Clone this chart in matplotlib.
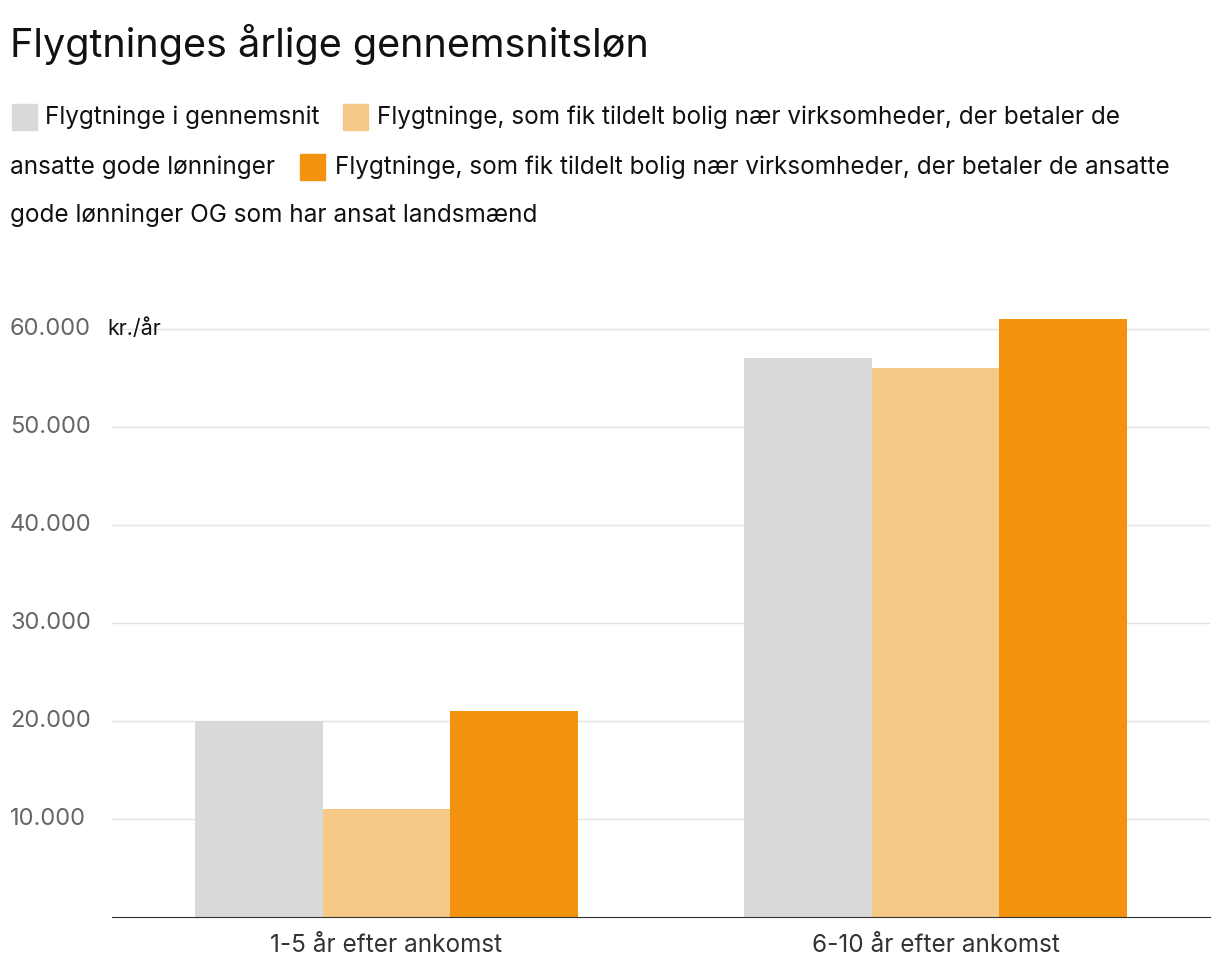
import matplotlib.pyplot as plt
from matplotlib.patches import Rectangle
import numpy as np

plt.rcParams['font.family'] = ['Inter', 'DejaVu Sans']

categories = ["1-5 år efter ankomst", "6-10 år efter ankomst"]
series_names = ["Flygtninge i gennemsnit",
                "Flygtninge, som fik tildelt bolig nær virksomheder, der betaler de ansatte gode lønninger",
                "Flygtninge, som fik tildelt bolig nær virksomheder, der betaler de ansatte gode lønninger OG som har ansat landsmænd"]
avg = [20000, 57000]
good_pay = [11000, 56000]
good_pay_countrymen = [21000, 61000]
colors = ["#d9d9d9", "#f7c987", "#f2920f"]
yticks = [10000, 20000, 30000, 40000, 50000, 60000]
ytick_labels = ["10.000", "20.000", "30.000", "40.000", "50.000", "60.000"]

W, H = 1220, 980
fig = plt.figure(figsize=(12.2, 9.8), dpi=100)
ax = fig.add_axes([112 / W, 1 - 917 / H, 1098 / W, (917 - 309) / H])

x = np.arange(len(categories))
w = 0.233
for i, vals in enumerate([avg, good_pay, good_pay_countrymen]):
    ax.bar(x + (i - 1) * w, vals, width=w, color=colors[i], zorder=2)

ax.set_xlim(-0.5, 1.5)
ax.set_ylim(0, 62000)
ax.set_yticks(yticks)
ax.set_yticklabels([])
ax.tick_params(axis='y', length=0)
ax.tick_params(axis='x', length=0, pad=12, labelsize=17.5, colors="#333333")
ax.set_xticks(x)
ax.set_xticklabels(categories)
ax.grid(axis='y', color="#e3e3e3", linewidth=1, zorder=0)
for s in ["top", "right", "left"]:
    ax.spines[s].set_visible(False)
ax.spines["bottom"].set_color("#333333")

for yv, lab in zip(yticks, ytick_labels):
    ax.annotate(lab, xy=(0, yv), xycoords=('figure fraction', 'data'),
                xytext=(10, 0), textcoords='offset pixels',
                ha='left', va='center', fontsize=17, color="#666666")
ax.annotate("kr./år", xy=(107 / W, 60000), xycoords=('figure fraction', 'data'),
            ha='left', va='center', fontsize=15.5, color="#111111")

fig.text(10 / W, 1 - 44 / H, "Flygtninges årlige gennemsnitsløn",
         fontsize=28.5, va='center', ha='left', color="#111111")

def square(px, py, c):
    fig.patches.append(Rectangle((px / W, 1 - (py + 13) / H), 25 / W, 26 / H,
                                 transform=fig.transFigure, color=c))

def txt(px, py, s):
    fig.text(px / W, 1 - py / H, s, fontsize=17.5, va='center', ha='left', color="#111111")

square(12, 117, colors[0]); txt(45, 117, series_names[0])
square(343, 117, colors[1])
txt(377, 117, "Flygtninge, som fik tildelt bolig nær virksomheder, der betaler de")
txt(10, 167, "ansatte gode lønninger")
square(300, 167, colors[2])
txt(335, 167, "Flygtninge, som fik tildelt bolig nær virksomheder, der betaler de ansatte")
txt(10, 215, "gode lønninger OG som har ansat landsmænd")

fig.savefig("out.png", dpi=100)
